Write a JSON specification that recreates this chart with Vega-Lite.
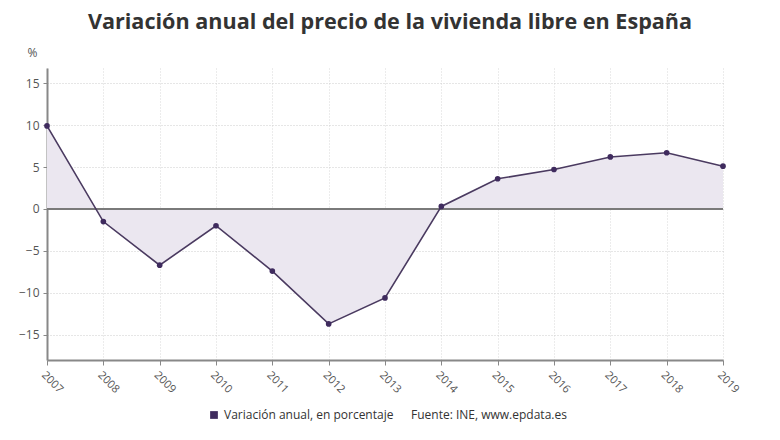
{
  "$schema": "https://vega.github.io/schema/vega-lite/v6.json",
  "width": 676,
  "height": 292,
  "autosize": {"type": "none"},
  "padding": {"left": 47, "top": 68, "right": 57, "bottom": 80},
  "background": "white",
  "config": {"font": "Open Sans", "view": {"stroke": null}},
  "title": {
    "text": "Variación anual del precio de la vivienda libre en España",
    "fontSize": 21.6,
    "font": "Open Sans",
    "fontWeight": "bold",
    "color": "#333333",
    "anchor": "middle",
    "offset": 12,
    "dx": 5
  },
  "data": {
    "values": [
      {"year": 2007, "value": 9.9, "serie": "Variación anual, en porcentaje"},
      {"year": 2008, "value": -1.5, "serie": "Variación anual, en porcentaje"},
      {"year": 2009, "value": -6.7, "serie": "Variación anual, en porcentaje"},
      {"year": 2010, "value": -2.0, "serie": "Variación anual, en porcentaje"},
      {"year": 2011, "value": -7.4, "serie": "Variación anual, en porcentaje"},
      {"year": 2012, "value": -13.7, "serie": "Variación anual, en porcentaje"},
      {"year": 2013, "value": -10.6, "serie": "Variación anual, en porcentaje"},
      {"year": 2014, "value": 0.3, "serie": "Variación anual, en porcentaje"},
      {"year": 2015, "value": 3.6, "serie": "Variación anual, en porcentaje"},
      {"year": 2016, "value": 4.7, "serie": "Variación anual, en porcentaje"},
      {"year": 2017, "value": 6.2, "serie": "Variación anual, en porcentaje"},
      {"year": 2018, "value": 6.7, "serie": "Variación anual, en porcentaje"},
      {"year": 2019, "value": 5.1, "serie": "Variación anual, en porcentaje"}
    ]
  },
  "encoding": {
    "x": {
      "field": "year",
      "type": "quantitative",
      "scale": {"domain": [2007, 2019], "nice": false, "zero": false},
      "axis": {
        "title": null,
        "values": [2007, 2008, 2009, 2010, 2011, 2012, 2013, 2014, 2015, 2016, 2017, 2018, 2019],
        "format": "d",
        "labelAngle": 45,
        "labelAlign": "left",
        "labelBaseline": "top",
        "labelFontSize": 11,
        "labelColor": "#555555",
        "labelPadding": 4,
        "grid": true,
        "gridColor": "#d8d8d8",
        "gridDash": [1, 2],
        "domainColor": "#888888",
        "domainWidth": 2,
        "tickColor": "#888888",
        "tickSize": 5
      }
    },
    "y": {
      "field": "value",
      "type": "quantitative",
      "scale": {"domain": [-18, 16.8], "nice": false, "zero": false},
      "axis": {
        "title": "%",
        "titleAngle": 0,
        "titleX": -15,
        "titleY": -16,
        "titleAlign": "center",
        "titleBaseline": "middle",
        "titleFontWeight": "normal",
        "titleFontSize": 12,
        "titleColor": "#555555",
        "values": [-15, -10, -5, 0, 5, 10, 15],
        "labelFontSize": 12,
        "labelColor": "#555555",
        "labelPadding": 4,
        "grid": true,
        "gridColor": "#cccccc",
        "gridDash": [1, 2],
        "domainColor": "#888888",
        "domainWidth": 2,
        "tickColor": "#888888",
        "tickSize": 4
      }
    }
  },
  "layer": [
    {
      "mark": {"type": "area", "color": "#ebe7f0", "opacity": 1},
      "encoding": {"y2": {"datum": 0}}
    },
    {
      "mark": {"type": "rule", "color": "#7a7a7a", "strokeWidth": 2},
      "encoding": {"y": {"datum": 0}, "x": null}
    },
    {
      "mark": {"type": "line", "color": "#4a3a60", "strokeWidth": 1.6}
    },
    {
      "mark": {"type": "point", "filled": true, "size": 32, "opacity": 1},
      "encoding": {
        "color": {
          "field": "serie",
          "type": "nominal",
          "scale": {"domain": ["Variación anual, en porcentaje"], "range": ["#3f2b5e"]},
          "legend": {
            "orient": "none",
            "legendX": 161,
            "legendY": 341,
            "direction": "horizontal",
            "symbolType": "square",
            "symbolSize": 60,
            "symbolFillColor": "#5b3f86",
            "labelFontSize": 12,
            "labelLimit": 300,
            "labelColor": "#333333",
            "labelFont": "Open Sans",
            "title": "Fuente: INE, www.epdata.es",
            "titleOrient": "right",
            "titleFontWeight": "normal",
            "titleFontSize": 12,
            "titleLimit": 300,
            "titleColor": "#333333",
            "titleFont": "Open Sans",
            "titlePadding": 18,
            "titleBaseline": "middle"
          }
        }
      }
    }
  ]
}
